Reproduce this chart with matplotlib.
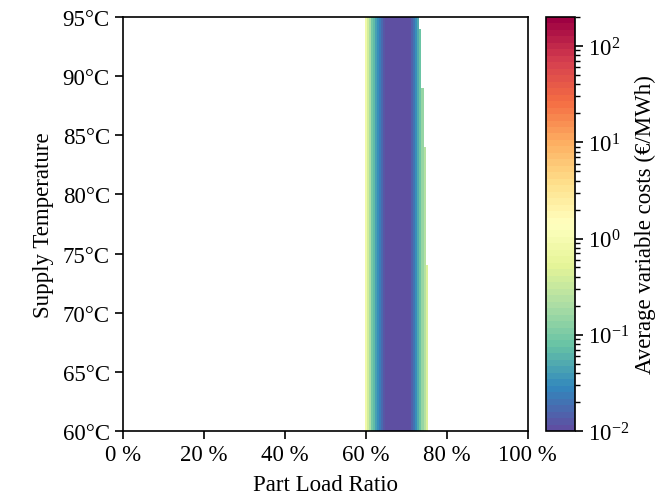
import numpy as np
import matplotlib
matplotlib.use('Agg')
from matplotlib import pyplot as plt
from matplotlib.colors import LogNorm

plt.rcParams['font.family'] = ['Liberation Serif', 'DejaVu Serif']
plt.rcParams['mathtext.fontset'] = 'stix'
plt.rcParams['font.size'] = 16.5

plr = [0.600, 0.605, 0.610, 0.615, 0.620, 0.625, 0.630, 0.635, 0.640, 0.645,
       0.650, 0.655, 0.660, 0.665, 0.670, 0.675, 0.680, 0.685, 0.690, 0.695,
       0.700, 0.705, 0.710, 0.715, 0.720, 0.725, 0.730, 0.735, 0.740, 0.745,
       0.750]
cost = [0.8, 0.4, 0.2, 0.1, 0.07, 0.045, 0.03, 0.022, 0.017, 0.013,
        0.011, 0.0105, 0.0102, 0.0101, 0.0101, 0.0101, 0.0101, 0.0101, 0.0101, 0.0102,
        0.0103, 0.0105, 0.011, 0.014, 0.02, 0.03, 0.05, 0.08, 0.14, 0.25,
        0.45]

# supply temperature bands and the highest feasible part load in each
temp_edges = [60, 74, 79, 84, 89, 94, 95]
max_plr = [0.750, 0.745, 0.745, 0.740, 0.735, 0.730]

x_ticks = [0, 0.2, 0.4, 0.6, 0.8, 1.0]
x_labels = ['0 %', '20 %', '40 %', '60 %', '80 %', '100 %']
y_ticks = [60, 65, 70, 75, 80, 85, 90, 95]
y_labels = [str(t) + '°C' for t in y_ticks]

step = 0.005
x_edges = [p - step / 2 for p in plr] + [plr[-1] + step / 2]
z = np.ma.masked_all((len(max_plr), len(plr)))
for i, lim in enumerate(max_plr):
    for j, p in enumerate(plr):
        if p <= lim + 1e-9:
            z[i, j] = cost[j]

fig = plt.figure(figsize=(6.58, 5.02), dpi=100)
ax = fig.add_axes([0.187, 0.1394, 0.615, 0.8247])
cax = fig.add_axes([0.830, 0.1394, 0.044, 0.8247])

cmap = plt.get_cmap('Spectral_r', 64)
norm = LogNorm(vmin=0.01, vmax=200)
mesh = ax.pcolormesh(x_edges, temp_edges, z, cmap=cmap, norm=norm)

ax.set_xlim(0, 1)
ax.set_ylim(60, 95)
ax.set_xticks(x_ticks)
ax.set_xticklabels(x_labels)
ax.set_yticks(y_ticks)
ax.set_yticklabels(y_labels)
ax.set_xlabel('Part Load Ratio', labelpad=6)
ax.set_ylabel('Supply Temperature', labelpad=6)
ax.tick_params(length=6, width=1.2)
for s in ax.spines.values():
    s.set_linewidth(1.2)

cb = fig.colorbar(mesh, cax=cax)
cb.set_label('Average variable costs (€/MWh)')
cb.ax.tick_params(which='major', length=6, width=1.2)
cb.ax.tick_params(which='minor', length=3.5, width=1.0)
cb.outline.set_linewidth(1.2)

fig.savefig('out.png', dpi=100)
